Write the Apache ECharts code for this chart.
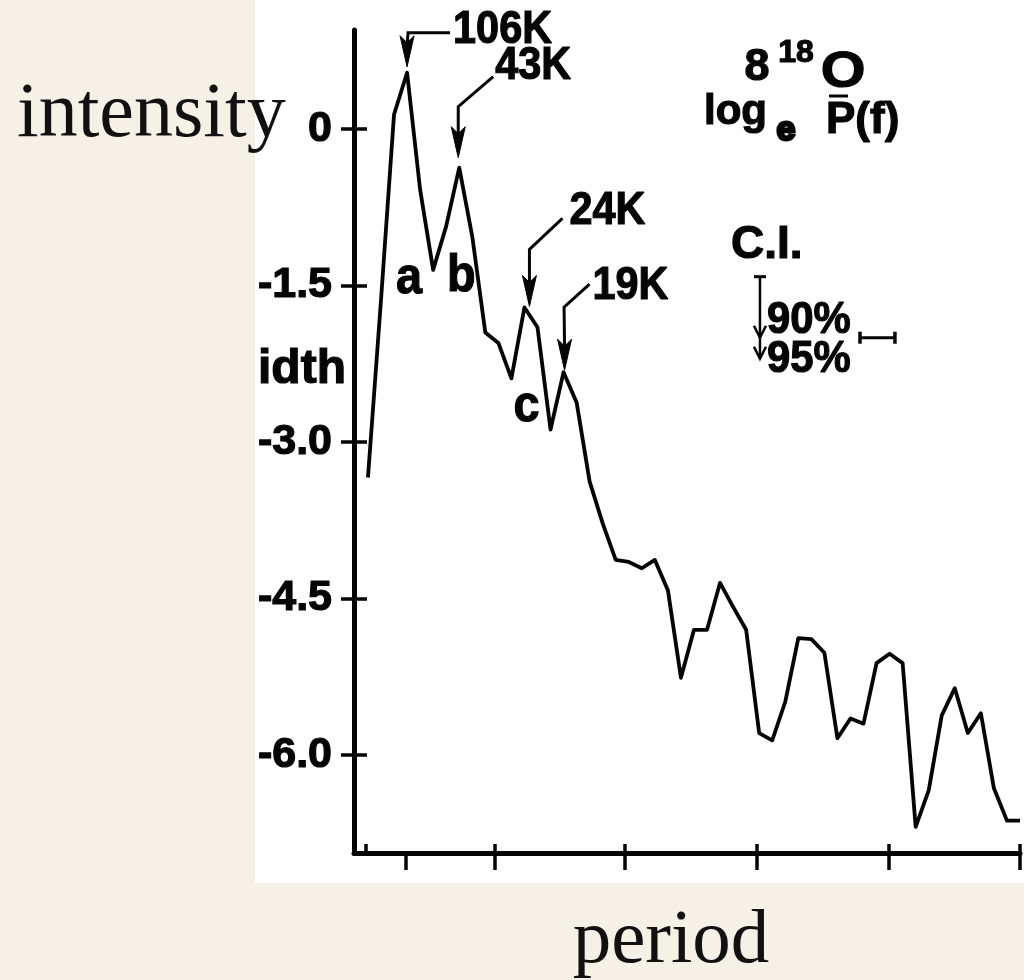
<!DOCTYPE html>
<html>
<head>
<meta charset="utf-8">
<title>Log power spectrum</title>
<script src="https://cdn.jsdelivr.net/npm/echarts@6/dist/echarts.min.js"></script>
<style>
  html, body { margin: 0; padding: 0; background: #f5f1e6; }
  #chart { width: 1024px; height: 980px; }
</style>
</head>
<body>
<div id="chart"></div>
<script>
// Frequency steps of the spectral estimate and the log power at each step
const freqStep = [0, 1, 2, 3, 4, 5, 6, 7, 8, 9, 10, 11, 12, 13, 14, 15, 16, 17, 18, 19, 20,
  21, 22, 23, 24, 25, 26, 27, 28, 29, 30, 31, 32, 33, 34, 35, 36, 37, 38, 39, 40,
  41, 42, 43, 44, 45, 46, 47, 48, 49, 50];
const logPower = [-3.34, -1.64, 0.14, 0.54, -0.58, -1.35, -0.93, -0.37, -1.03, -1.95,
  -2.05, -2.39, -1.71, -1.90, -2.88, -2.33, -2.62, -3.38, -3.78, -4.13,
  -4.15, -4.21, -4.13, -4.42, -5.26, -4.80, -4.80, -4.35, -4.58, -4.80,
  -5.79, -5.86, -5.49, -4.88, -4.89, -5.02, -5.84, -5.65, -5.70, -5.12,
  -5.03, -5.12, -6.69, -6.34, -5.62, -5.36, -5.79, -5.60, -6.32, -6.63, -6.63];

// Axis ticks
const yTicks = [0, -1.5, -3.0, -4.5, -6.0];
const xTicksBelow = [2.9, 9.7, 19.7, 29.8, 39.9, 50];
const xTicksAbove = [-0.2, 9.7, 19.7, 29.8, 39.9, 50];

// Labelled spectral peaks and bands
const peakStep = [3, 7, 12, 15];
const peakPeriod = ['106K', '43K', '24K', '19K'];
const bandStep = [3, 7, 12];
const bandName = ['a', 'b', 'c'];

// Confidence intervals (log units) and bandwidth (frequency steps)
const ciLevel = ['90%', '95%'];
const ciSpan = [0.585, 0.787];
const bandwidth = 2.68;

const SANS = '"Liberation Sans", Arial, sans-serif';
const SERIF = '"Liberation Serif", "Times New Roman", serif';
const INK = '#050505';

// Leader geometry for each peak label, in pixels from the peak
const leaderLayout = [
  { tip: [0, -6],   path: [[1, -40], [43, -40]],   label: [46, -42] },
  { tip: [-1, -10], path: [[-1, -61], [34, -91]],  label: [36, -101] },
  { tip: [5, -1],   path: [[5, -58], [38, -89]],   label: [45, -96] },
  { tip: [1, -2],   path: [[0.5, -65], [26, -88]], label: [29, -86] }
];
// Vertical placement of the band letters (value units)
const bandLetterY = [-1.43, -1.41, -2.66];

const peakData = peakStep.map((k, i) => [freqStep[k], logPower[k], i]);
const bandData = bandStep.map((k, i) => [freqStep[k], bandLetterY[i], i]);

// heavy stencil-like lettering: bold glyphs with a thin outline in the same ink
function heavyText(extra) {
  return Object.assign({ fontFamily: SANS, fontWeight: 'bold', fill: INK, stroke: INK, lineWidth: 1.2 }, extra);
}

function renderPeak(params, api) {
  const i = params.dataIndex;
  const p = api.coord([api.value(0), api.value(1)]);
  const L = leaderLayout[i];
  const tip = [p[0] + L.tip[0], p[1] + L.tip[1]];
  const pts = L.path.map(d => [p[0] + d[0], p[1] + d[1]]).reverse();
  pts.push([tip[0], tip[1] - 22]);
  const head = [[tip[0], tip[1]], [tip[0] - 7, tip[1] - 31], [tip[0], tip[1] - 24], [tip[0] + 7, tip[1] - 31]];
  return {
    type: 'group',
    children: [
      { type: 'polyline', shape: { points: pts }, style: { stroke: INK, lineWidth: 3, fill: null } },
      { type: 'polygon', shape: { points: head }, style: { fill: INK, stroke: INK, lineWidth: 1 } },
      {
        type: 'text', x: p[0] + L.label[0], y: p[1] + L.label[1], scaleX: 0.9,
        style: heavyText({ text: peakPeriod[i], fontSize: 46, align: 'left', verticalAlign: 'middle' })
      }
    ]
  };
}

function renderBand(params, api) {
  const i = params.dataIndex;
  const p = api.coord([api.value(0), api.value(1)]);
  return {
    type: 'text', x: p[0] + 2, y: p[1], scaleX: 0.9,
    style: heavyText({ text: bandName[i], fontSize: 52, align: 'center', verticalAlign: 'middle' })
  };
}

// Confidence interval marker and bandwidth bar
function renderCI(params, api) {
  const top = api.coord([api.value(0), api.value(1)]);
  const ends = ciSpan.map(s => api.coord([api.value(0), api.value(1) - s]));
  const bw0 = api.coord([api.value(2), api.value(1) - ciSpan[0]]);
  const bw1 = api.coord([api.value(2) + bandwidth, api.value(1) - ciSpan[0]]);
  const x = top[0];
  const children = [
    { type: 'line', shape: { x1: x, y1: top[1], x2: x, y2: ends[1][1] }, style: { stroke: INK, lineWidth: 2.5 } },
    { type: 'line', shape: { x1: x - 6, y1: top[1], x2: x + 6, y2: top[1] }, style: { stroke: INK, lineWidth: 3 } },
    { type: 'line', shape: { x1: bw0[0], y1: bw0[1], x2: bw1[0], y2: bw1[1] }, style: { stroke: INK, lineWidth: 3 } },
    { type: 'line', shape: { x1: bw0[0], y1: bw0[1] - 6, x2: bw0[0], y2: bw0[1] + 6 }, style: { stroke: INK, lineWidth: 3.5 } },
    { type: 'line', shape: { x1: bw1[0], y1: bw1[1] - 6, x2: bw1[0], y2: bw1[1] + 6 }, style: { stroke: INK, lineWidth: 3.5 } }
  ];
  const labelDy = [-17, 1];
  ends.forEach((e, i) => {
    children.push({
      type: 'polyline',
      shape: { points: [[x - 6, e[1] - 12], [x, e[1]], [x + 6, e[1] - 12]] },
      style: { stroke: INK, lineWidth: 2.5, fill: null }
    });
    children.push({
      type: 'text', x: x + 7, y: e[1] + labelDy[i], scaleX: 0.95,
      style: heavyText({ text: ciLevel[i], fontSize: 44, align: 'left', verticalAlign: 'middle' })
    });
  });
  return { type: 'group', children };
}

const chart = echarts.init(document.getElementById('chart'), null, { renderer: 'canvas' });

const X_MIN = -1.07, X_MAX = 50, Y_MIN = -6.94, Y_MAX = 0.95;

chart.setOption({
  backgroundColor: 'transparent',
  animation: false,
  grid: { left: 354, right: 4, top: 30, bottom: 127 },
  xAxis: [
    {
      type: 'value', position: 'bottom', min: X_MIN, max: X_MAX,
      splitLine: { show: false }, axisLabel: { show: false },
      axisLine: { show: true, onZero: false, lineStyle: { color: INK, width: 5 } },
      axisTick: { show: true, inside: false, length: 17, customValues: xTicksBelow, lineStyle: { color: INK, width: 3.5 } }
    },
    {
      type: 'value', position: 'bottom', min: X_MIN, max: X_MAX,
      splitLine: { show: false }, axisLabel: { show: false },
      axisLine: { show: false, onZero: false },
      axisTick: { show: true, inside: true, length: 9, customValues: xTicksAbove, lineStyle: { color: INK, width: 3.5 } }
    }
  ],
  yAxis: [
    {
      type: 'value', position: 'left', min: Y_MIN, max: Y_MAX,
      splitLine: { show: false },
      axisLine: { show: true, onZero: false, lineStyle: { color: INK, width: 5 } },
      axisTick: { show: true, inside: false, length: 13, customValues: yTicks, lineStyle: { color: INK, width: 3.5 } },
      axisLabel: {
        show: true, customValues: yTicks, margin: 22,
        formatter: v => (v === 0 ? '0' : v.toFixed(1)),
        fontFamily: SANS, fontWeight: 'bold', fontSize: 43, color: INK,
        textBorderColor: INK, textBorderWidth: 1.2
      }
    },
    {
      type: 'value', position: 'left', min: Y_MIN, max: Y_MAX,
      splitLine: { show: false },
      axisLine: { show: false, onZero: false },
      axisTick: { show: true, inside: true, length: 13, customValues: yTicks, lineStyle: { color: INK, width: 3.5 } },
      axisLabel: { show: false }
    }
  ],
  series: [
    {
      type: 'line',
      data: freqStep.map((k, i) => [k, logPower[i]]),
      showSymbol: false,
      lineStyle: { color: INK, width: 3.8, join: 'round' },
      z: 3
    },
    { type: 'custom', renderItem: renderPeak, data: peakData, clip: false, z: 4 },
    { type: 'custom', renderItem: renderBand, data: bandData, clip: false, z: 4 },
    { type: 'custom', renderItem: renderCI, data: [[30.06, -1.415, 37.73]], clip: false, z: 4 }
  ],
  graphic: [
    { type: 'rect', z: -100, shape: { x: 255, y: 0, width: 769, height: 883 }, style: { fill: '#ffffff' } },
    { type: 'text', x: 17, y: 116, style: { text: 'intensity', fontFamily: SERIF, fontSize: 78, fill: '#111', align: 'left', verticalAlign: 'middle' } },
    { type: 'text', x: 671, y: 942, style: { text: 'period', fontFamily: SERIF, fontSize: 77, fill: '#111', align: 'center', verticalAlign: 'middle' } },
    { type: 'text', x: 258, y: 370, style: heavyText({ text: 'idth', fontSize: 48, align: 'left', verticalAlign: 'middle' }) },
    // heading: isotope and log-power notation
    { type: 'text', x: 757, y: 68, style: heavyText({ text: '8', fontSize: 45, align: 'center', verticalAlign: 'middle' }) },
    { type: 'text', x: 796, y: 53, style: heavyText({ text: '18', fontSize: 32, align: 'center', verticalAlign: 'middle' }) },
    { type: 'text', x: 843, y: 73, scaleX: 1.15, style: heavyText({ text: 'O', fontSize: 50, align: 'center', verticalAlign: 'middle' }) },
    { type: 'text', x: 704, y: 112, style: heavyText({ text: 'log', fontSize: 42, align: 'left', verticalAlign: 'middle' }) },
    { type: 'text', x: 786, y: 131, style: heavyText({ text: 'e', fontSize: 34, align: 'center', verticalAlign: 'middle', lineWidth: 3 }) },
    { type: 'text', x: 826, y: 121, style: heavyText({ text: 'P(f)', fontSize: 44, align: 'left', verticalAlign: 'middle' }) },
    { type: 'line', shape: { x1: 829, y1: 96, x2: 848, y2: 96 }, style: { stroke: INK, lineWidth: 3 } },
    { type: 'text', x: 731, y: 245, style: heavyText({ text: 'C.I.', fontSize: 46, align: 'left', verticalAlign: 'middle' }) }
  ]
});
</script>
</body>
</html>
